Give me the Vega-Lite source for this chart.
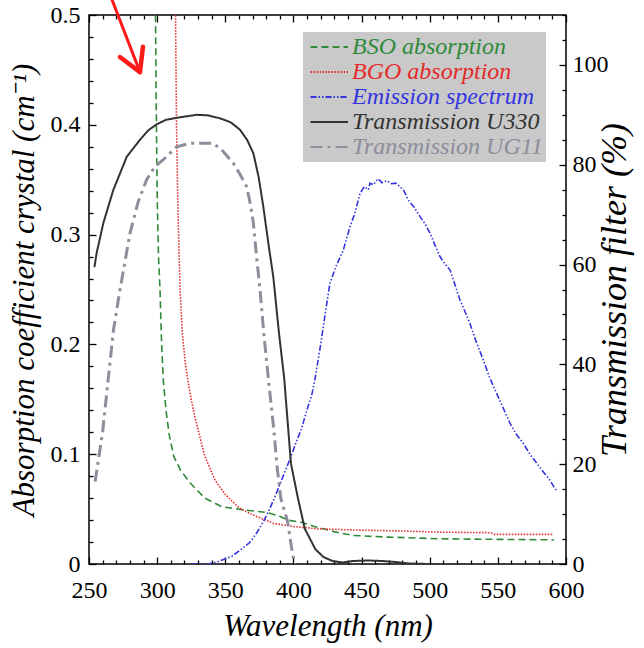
{
  "$schema": "https://vega.github.io/schema/vega-lite/v6.json",
  "width": 477,
  "height": 549,
  "autosize": {"type": "none"},
  "padding": {"left": 89, "top": 15, "right": 78, "bottom": 84},
  "background": "white",
  "config": {
    "view": {"stroke": "black", "strokeWidth": 1.5},
    "font": "'Times New Roman', 'Liberation Serif', Tinos, 'Noto Serif', FreeSerif, 'DejaVu Serif', serif",
    "axis": {
      "domain": false,
      "grid": false,
      "labelFont": "'Times New Roman', 'Liberation Serif', Tinos, 'Noto Serif', FreeSerif, 'DejaVu Serif', serif",
      "labelFontSize": 24,
      "labelColor": "black",
      "titleFont": "'Times New Roman', 'Liberation Serif', Tinos, 'Noto Serif', FreeSerif, 'DejaVu Serif', serif",
      "titleFontSize": 31,
      "titleFontStyle": "italic",
      "titleFontWeight": "normal",
      "titleColor": "black",
      "tickColor": "black",
      "tickWidth": 1.3,
      "labelOverlap": false,
      "labelFlush": false
    }
  },
  "datasets": {
    "absorption": [
      {"series": "BSO absorption", "wavelength": 298.5, "value": 0.62},
      {"series": "BSO absorption", "wavelength": 298.8, "value": 0.5},
      {"series": "BSO absorption", "wavelength": 299.3, "value": 0.42},
      {"series": "BSO absorption", "wavelength": 300.1, "value": 0.33},
      {"series": "BSO absorption", "wavelength": 301.0, "value": 0.28},
      {"series": "BSO absorption", "wavelength": 302.1, "value": 0.25},
      {"series": "BSO absorption", "wavelength": 303.3, "value": 0.2},
      {"series": "BSO absorption", "wavelength": 304.6, "value": 0.166},
      {"series": "BSO absorption", "wavelength": 306.5, "value": 0.14},
      {"series": "BSO absorption", "wavelength": 308.8, "value": 0.118},
      {"series": "BSO absorption", "wavelength": 312.2, "value": 0.098},
      {"series": "BSO absorption", "wavelength": 317.3, "value": 0.085},
      {"series": "BSO absorption", "wavelength": 324.8, "value": 0.073},
      {"series": "BSO absorption", "wavelength": 335.0, "value": 0.06},
      {"series": "BSO absorption", "wavelength": 347.7, "value": 0.052},
      {"series": "BSO absorption", "wavelength": 365.3, "value": 0.049},
      {"series": "BSO absorption", "wavelength": 380.5, "value": 0.047},
      {"series": "BSO absorption", "wavelength": 390.7, "value": 0.043},
      {"series": "BSO absorption", "wavelength": 395.7, "value": 0.04},
      {"series": "BSO absorption", "wavelength": 405.8, "value": 0.038},
      {"series": "BSO absorption", "wavelength": 416.0, "value": 0.034},
      {"series": "BSO absorption", "wavelength": 431.2, "value": 0.029},
      {"series": "BSO absorption", "wavelength": 443.8, "value": 0.026},
      {"series": "BSO absorption", "wavelength": 469.1, "value": 0.0245},
      {"series": "BSO absorption", "wavelength": 507.0, "value": 0.023},
      {"series": "BSO absorption", "wavelength": 545.0, "value": 0.0225},
      {"series": "BSO absorption", "wavelength": 591.0, "value": 0.022},
      {"series": "BGO absorption", "wavelength": 313.3, "value": 0.62},
      {"series": "BGO absorption", "wavelength": 313.5, "value": 0.5},
      {"series": "BGO absorption", "wavelength": 314.2, "value": 0.4},
      {"series": "BGO absorption", "wavelength": 315.3, "value": 0.32},
      {"series": "BGO absorption", "wavelength": 316.8, "value": 0.25},
      {"series": "BGO absorption", "wavelength": 318.5, "value": 0.21},
      {"series": "BGO absorption", "wavelength": 320.5, "value": 0.185},
      {"series": "BGO absorption", "wavelength": 322.3, "value": 0.169},
      {"series": "BGO absorption", "wavelength": 324.8, "value": 0.151},
      {"series": "BGO absorption", "wavelength": 327.5, "value": 0.135},
      {"series": "BGO absorption", "wavelength": 329.9, "value": 0.123},
      {"series": "BGO absorption", "wavelength": 335.0, "value": 0.098},
      {"series": "BGO absorption", "wavelength": 342.6, "value": 0.076},
      {"series": "BGO absorption", "wavelength": 350.2, "value": 0.063},
      {"series": "BGO absorption", "wavelength": 360.3, "value": 0.051},
      {"series": "BGO absorption", "wavelength": 370.4, "value": 0.0446},
      {"series": "BGO absorption", "wavelength": 385.6, "value": 0.037},
      {"series": "BGO absorption", "wavelength": 400.8, "value": 0.034},
      {"series": "BGO absorption", "wavelength": 418.5, "value": 0.032},
      {"series": "BGO absorption", "wavelength": 443.8, "value": 0.031},
      {"series": "BGO absorption", "wavelength": 481.7, "value": 0.03},
      {"series": "BGO absorption", "wavelength": 507.0, "value": 0.029},
      {"series": "BGO absorption", "wavelength": 545.0, "value": 0.0285},
      {"series": "BGO absorption", "wavelength": 547.5, "value": 0.027},
      {"series": "BGO absorption", "wavelength": 591.0, "value": 0.027}
    ],
    "transmission": [
      {"series": "Emission spectrum", "wavelength": 325.0, "percent": 0.0},
      {"series": "Emission spectrum", "wavelength": 337.5, "percent": 0.0},
      {"series": "Emission spectrum", "wavelength": 345.0, "percent": 0.5},
      {"series": "Emission spectrum", "wavelength": 355.2, "percent": 1.6},
      {"series": "Emission spectrum", "wavelength": 361.0, "percent": 2.8},
      {"series": "Emission spectrum", "wavelength": 367.9, "percent": 4.3},
      {"series": "Emission spectrum", "wavelength": 373.0, "percent": 6.2},
      {"series": "Emission spectrum", "wavelength": 378.0, "percent": 8.5},
      {"series": "Emission spectrum", "wavelength": 383.0, "percent": 11.3},
      {"series": "Emission spectrum", "wavelength": 388.1, "percent": 14.6},
      {"series": "Emission spectrum", "wavelength": 393.0, "percent": 18.0},
      {"series": "Emission spectrum", "wavelength": 398.2, "percent": 21.5},
      {"series": "Emission spectrum", "wavelength": 402.0, "percent": 24.4},
      {"series": "Emission spectrum", "wavelength": 405.8, "percent": 27.0},
      {"series": "Emission spectrum", "wavelength": 409.5, "percent": 30.5},
      {"series": "Emission spectrum", "wavelength": 413.4, "percent": 33.8},
      {"series": "Emission spectrum", "wavelength": 416.0, "percent": 37.3},
      {"series": "Emission spectrum", "wavelength": 420.0, "percent": 44.0},
      {"series": "Emission spectrum", "wavelength": 423.5, "percent": 50.5},
      {"series": "Emission spectrum", "wavelength": 426.8, "percent": 56.3},
      {"series": "Emission spectrum", "wavelength": 431.5, "percent": 59.8},
      {"series": "Emission spectrum", "wavelength": 436.6, "percent": 62.9},
      {"series": "Emission spectrum", "wavelength": 441.5, "percent": 67.6},
      {"series": "Emission spectrum", "wavelength": 445.0, "percent": 70.2},
      {"series": "Emission spectrum", "wavelength": 448.8, "percent": 74.2},
      {"series": "Emission spectrum", "wavelength": 452.0, "percent": 75.6},
      {"series": "Emission spectrum", "wavelength": 455.0, "percent": 75.0},
      {"series": "Emission spectrum", "wavelength": 456.2, "percent": 76.3},
      {"series": "Emission spectrum", "wavelength": 458.6, "percent": 76.0},
      {"series": "Emission spectrum", "wavelength": 462.0, "percent": 77.2},
      {"series": "Emission spectrum", "wavelength": 465.0, "percent": 76.4},
      {"series": "Emission spectrum", "wavelength": 468.4, "percent": 76.8},
      {"series": "Emission spectrum", "wavelength": 472.0, "percent": 76.2},
      {"series": "Emission spectrum", "wavelength": 475.0, "percent": 76.3},
      {"series": "Emission spectrum", "wavelength": 478.2, "percent": 75.6},
      {"series": "Emission spectrum", "wavelength": 481.0, "percent": 74.8},
      {"series": "Emission spectrum", "wavelength": 484.3, "percent": 72.9},
      {"series": "Emission spectrum", "wavelength": 488.5, "percent": 71.5},
      {"series": "Emission spectrum", "wavelength": 492.9, "percent": 69.6},
      {"series": "Emission spectrum", "wavelength": 496.5, "percent": 68.2},
      {"series": "Emission spectrum", "wavelength": 500.2, "percent": 66.3},
      {"series": "Emission spectrum", "wavelength": 504.0, "percent": 63.8},
      {"series": "Emission spectrum", "wavelength": 507.5, "percent": 61.6},
      {"series": "Emission spectrum", "wavelength": 511.0, "percent": 60.2},
      {"series": "Emission spectrum", "wavelength": 514.9, "percent": 58.9},
      {"series": "Emission spectrum", "wavelength": 518.5, "percent": 56.0},
      {"series": "Emission spectrum", "wavelength": 522.2, "percent": 52.9},
      {"series": "Emission spectrum", "wavelength": 526.0, "percent": 50.5},
      {"series": "Emission spectrum", "wavelength": 529.5, "percent": 48.2},
      {"series": "Emission spectrum", "wavelength": 534.0, "percent": 44.6},
      {"series": "Emission spectrum", "wavelength": 539.3, "percent": 40.9},
      {"series": "Emission spectrum", "wavelength": 544.0, "percent": 37.3},
      {"series": "Emission spectrum", "wavelength": 549.1, "percent": 34.2},
      {"series": "Emission spectrum", "wavelength": 554.0, "percent": 31.2},
      {"series": "Emission spectrum", "wavelength": 558.9, "percent": 28.2},
      {"series": "Emission spectrum", "wavelength": 563.5, "percent": 26.0},
      {"series": "Emission spectrum", "wavelength": 568.6, "percent": 24.2},
      {"series": "Emission spectrum", "wavelength": 573.5, "percent": 22.0},
      {"series": "Emission spectrum", "wavelength": 578.5, "percent": 20.2},
      {"series": "Emission spectrum", "wavelength": 583.0, "percent": 18.6},
      {"series": "Emission spectrum", "wavelength": 588.2, "percent": 16.8},
      {"series": "Emission spectrum", "wavelength": 591.0, "percent": 15.5},
      {"series": "Emission spectrum", "wavelength": 593.6, "percent": 14.5},
      {"series": "Transmission U330", "wavelength": 254.0, "percent": 59.5},
      {"series": "Transmission U330", "wavelength": 255.6, "percent": 62.3},
      {"series": "Transmission U330", "wavelength": 260.5, "percent": 68.3},
      {"series": "Transmission U330", "wavelength": 267.8, "percent": 74.9},
      {"series": "Transmission U330", "wavelength": 277.7, "percent": 81.6},
      {"series": "Transmission U330", "wavelength": 287.4, "percent": 85.0},
      {"series": "Transmission U330", "wavelength": 293.5, "percent": 86.9},
      {"series": "Transmission U330", "wavelength": 299.7, "percent": 88.1},
      {"series": "Transmission U330", "wavelength": 306.5, "percent": 89.0},
      {"series": "Transmission U330", "wavelength": 314.3, "percent": 89.4},
      {"series": "Transmission U330", "wavelength": 329.0, "percent": 90.0},
      {"series": "Transmission U330", "wavelength": 337.0, "percent": 89.9},
      {"series": "Transmission U330", "wavelength": 346.1, "percent": 89.3},
      {"series": "Transmission U330", "wavelength": 354.0, "percent": 88.5},
      {"series": "Transmission U330", "wavelength": 360.8, "percent": 87.0},
      {"series": "Transmission U330", "wavelength": 366.0, "percent": 85.0},
      {"series": "Transmission U330", "wavelength": 370.6, "percent": 82.3},
      {"series": "Transmission U330", "wavelength": 374.5, "percent": 77.5},
      {"series": "Transmission U330", "wavelength": 377.9, "percent": 71.6},
      {"series": "Transmission U330", "wavelength": 382.0, "percent": 63.5},
      {"series": "Transmission U330", "wavelength": 385.2, "percent": 57.6},
      {"series": "Transmission U330", "wavelength": 389.5, "percent": 46.0},
      {"series": "Transmission U330", "wavelength": 393.2, "percent": 37.3},
      {"series": "Transmission U330", "wavelength": 398.2, "percent": 20.1},
      {"series": "Transmission U330", "wavelength": 403.3, "percent": 13.2},
      {"series": "Transmission U330", "wavelength": 408.3, "percent": 7.1},
      {"series": "Transmission U330", "wavelength": 416.0, "percent": 3.0},
      {"series": "Transmission U330", "wavelength": 422.0, "percent": 1.4},
      {"series": "Transmission U330", "wavelength": 428.6, "percent": 0.6},
      {"series": "Transmission U330", "wavelength": 436.0, "percent": 0.3},
      {"series": "Transmission U330", "wavelength": 443.8, "percent": 0.6},
      {"series": "Transmission U330", "wavelength": 455.0, "percent": 0.7},
      {"series": "Transmission U330", "wavelength": 465.0, "percent": 0.6},
      {"series": "Transmission U330", "wavelength": 475.0, "percent": 0.4},
      {"series": "Transmission U330", "wavelength": 485.0, "percent": 0.1},
      {"series": "Transmission U330", "wavelength": 500.0, "percent": 0.0},
      {"series": "Transmission UG11", "wavelength": 254.5, "percent": 16.5},
      {"series": "Transmission UG11", "wavelength": 260.0, "percent": 26.5},
      {"series": "Transmission UG11", "wavelength": 264.2, "percent": 37.3},
      {"series": "Transmission UG11", "wavelength": 268.0, "percent": 47.0},
      {"series": "Transmission UG11", "wavelength": 272.7, "percent": 54.9},
      {"series": "Transmission UG11", "wavelength": 280.1, "percent": 66.3},
      {"series": "Transmission UG11", "wavelength": 286.0, "percent": 72.5},
      {"series": "Transmission UG11", "wavelength": 292.3, "percent": 77.0},
      {"series": "Transmission UG11", "wavelength": 298.0, "percent": 79.5},
      {"series": "Transmission UG11", "wavelength": 304.5, "percent": 81.0},
      {"series": "Transmission UG11", "wavelength": 314.3, "percent": 83.6},
      {"series": "Transmission UG11", "wavelength": 324.1, "percent": 84.3},
      {"series": "Transmission UG11", "wavelength": 341.2, "percent": 84.3},
      {"series": "Transmission UG11", "wavelength": 348.0, "percent": 82.8},
      {"series": "Transmission UG11", "wavelength": 355.9, "percent": 80.3},
      {"series": "Transmission UG11", "wavelength": 361.0, "percent": 78.0},
      {"series": "Transmission UG11", "wavelength": 365.7, "percent": 75.6},
      {"series": "Transmission UG11", "wavelength": 368.5, "percent": 72.0},
      {"series": "Transmission UG11", "wavelength": 370.6, "percent": 68.3},
      {"series": "Transmission UG11", "wavelength": 373.0, "percent": 61.5},
      {"series": "Transmission UG11", "wavelength": 375.5, "percent": 54.9},
      {"series": "Transmission UG11", "wavelength": 378.5, "percent": 45.5},
      {"series": "Transmission UG11", "wavelength": 381.8, "percent": 36.6},
      {"series": "Transmission UG11", "wavelength": 385.6, "percent": 27.0},
      {"series": "Transmission UG11", "wavelength": 388.0, "percent": 19.5},
      {"series": "Transmission UG11", "wavelength": 390.7, "percent": 13.2},
      {"series": "Transmission UG11", "wavelength": 395.7, "percent": 8.5},
      {"series": "Transmission UG11", "wavelength": 398.5, "percent": 3.5},
      {"series": "Transmission UG11", "wavelength": 400.8, "percent": 0.0}
    ],
    "arrow": [
      {"part": "shaft", "wavelength": 265.0, "value": 0.52, "wavelength2": 287.4, "value2": 0.448},
      {"part": "head", "wavelength": 287.4, "value": 0.448, "wavelength2": 289.6, "value2": 0.471},
      {"part": "head", "wavelength": 287.4, "value": 0.448, "wavelength2": 272.7, "value2": 0.4617}
    ]
  },
  "layer": [
    {
      "data": {"name": "absorption"},
      "mark": {"type": "line", "clip": true, "strokeWidth": 1.6},
      "encoding": {
        "x": {
          "field": "wavelength", "type": "quantitative",
          "scale": {"domain": [250, 600], "nice": false, "zero": false},
          "axis": {
            "orient": "bottom",
            "title": "Wavelength (nm)",
            "values": [250, 260, 270, 280, 290, 300, 310, 320, 330, 340, 350, 360, 370, 380, 390, 400, 410, 420, 430, 440, 450, 460, 470, 480, 490, 500, 510, 520, 530, 540, 550, 560, 570, 580, 590, 600],
            "format": "d",
            "labelExpr": "datum.value % 50 === 0 ? datum.label : ''",
            "tickSize": {"condition": {"test": "datum.value % 50 === 0", "value": -7}, "value": -4},
            "labelPadding": 21,
            "titlePadding": 6
          }
        },
        "y": {
          "field": "value", "type": "quantitative",
          "scale": {"domain": [0, 0.5], "nice": false, "zero": false},
          "axis": {
            "orient": "left",
            "title": "Absorption coefficient crystal (cm⁻¹)",
            "values": [0, 0.02, 0.04, 0.06, 0.08, 0.1, 0.12, 0.14, 0.16, 0.18, 0.2, 0.22, 0.24, 0.26, 0.28, 0.3, 0.32, 0.34, 0.36, 0.38, 0.4, 0.42, 0.44, 0.46, 0.48, 0.5],
            "labelExpr": "abs(datum.value * 10 - round(datum.value * 10)) < 0.001 ? (datum.value === 0 ? '0' : format(datum.value, '.1f')) : ''",
            "tickSize": {"condition": {"test": "abs(datum.value * 10 - round(datum.value * 10)) < 0.001", "value": -7}, "value": -4},
            "labelPadding": 16,
            "titlePadding": 10
          }
        },
        "color": {
          "field": "series", "type": "nominal",
          "scale": {
            "domain": ["BSO absorption", "BGO absorption", "Emission spectrum", "Transmission U330", "Transmission UG11"],
            "range": ["#2f8a3a", "#e52a2a", "#3434e0", "#333333", "#8d8d9c"]
          },
          "legend": {
            "title": null,
            "orient": "none",
            "legendX": 214,
            "legendY": 17,
            "fillColor": "#c9c9c9",
            "padding": 3,
            "symbolType": "M-1,0H4",
            "symbolSize": 225,
            "symbolStrokeWidth": 2,
            "symbolFillColor": "transparent",
            "labelOffset": 22,
            "labelFont": "'Times New Roman', 'Liberation Serif', Tinos, 'Noto Serif', FreeSerif, 'DejaVu Serif', serif",
            "labelFontStyle": "italic",
            "labelFontSize": 24,
            "labelLimit": 400,
            "rowPadding": 1,
            "encode": {"labels": {"update": {"fill": {"scale": "color", "field": "value"}}}}
          }
        },
        "strokeDash": {
          "field": "series", "type": "nominal",
          "scale": {
            "domain": ["BSO absorption", "BGO absorption", "Emission spectrum", "Transmission U330", "Transmission UG11"],
            "range": [[7, 4], [1.5, 1.5], [6, 2, 1.5, 2, 1.5, 2], [1, 0], [12, 5, 3, 5]]
          }
        }
      }
    },
    {
      "data": {"name": "arrow"},
      "mark": {"type": "rule", "clip": false, "color": "#ff1a1a", "strokeCap": "round"},
      "encoding": {
        "x": {"field": "wavelength", "type": "quantitative", "scale": {"domain": [250, 600], "nice": false, "zero": false}, "axis": null},
        "y": {"field": "value", "type": "quantitative", "scale": {"domain": [0, 0.5], "nice": false, "zero": false}, "axis": null},
        "x2": {"field": "wavelength2"},
        "y2": {"field": "value2"},
        "strokeWidth": {"condition": {"test": "datum.part === 'shaft'", "value": 3}, "value": 4.5}
      }
    },
    {
      "data": {"name": "transmission"},
      "mark": {"type": "line", "clip": true},
      "encoding": {
        "x": {
          "field": "wavelength", "type": "quantitative",
          "scale": {"domain": [250, 600], "nice": false, "zero": false},
          "axis": {
            "orient": "top",
            "title": null,
            "labels": false,
            "values": [250, 260, 270, 280, 290, 300, 310, 320, 330, 340, 350, 360, 370, 380, 390, 400, 410, 420, 430, 440, 450, 460, 470, 480, 490, 500, 510, 520, 530, 540, 550, 560, 570, 580, 590, 600],
            "tickSize": {"condition": {"test": "datum.value % 50 === 0", "value": -7}, "value": -4}
          }
        },
        "y": {
          "field": "percent", "type": "quantitative",
          "scale": {"domain": [0, 110], "nice": false, "zero": false},
          "axis": {
            "orient": "right",
            "title": "Transmission  filter (%)",
            "titleFontSize": 36,
            "titleAngle": -90,
            "titleBaseline": "top",
            "values": [0, 5, 10, 15, 20, 25, 30, 35, 40, 45, 50, 55, 60, 65, 70, 75, 80, 85, 90, 95, 100, 105, 110],
            "labelExpr": "datum.value % 20 === 0 && datum.value <= 100 ? datum.label : ''",
            "tickSize": {"condition": {"test": "datum.value % 20 === 0", "value": -7}, "value": -4},
            "labelPadding": 13,
            "titlePadding": -11
          }
        },
        "color": {
          "field": "series", "type": "nominal",
          "scale": {
            "domain": ["BSO absorption", "BGO absorption", "Emission spectrum", "Transmission U330", "Transmission UG11"],
            "range": ["#2f8a3a", "#e52a2a", "#3434e0", "#333333", "#8d8d9c"]
          }
        },
        "strokeDash": {
          "field": "series", "type": "nominal",
          "scale": {
            "domain": ["BSO absorption", "BGO absorption", "Emission spectrum", "Transmission U330", "Transmission UG11"],
            "range": [[7, 4], [1.5, 1.5], [6, 2, 1.5, 2, 1.5, 2], [1, 0], [12, 5, 3, 5]]
          }
        },
        "strokeWidth": {
          "condition": [
            {"test": "datum.series === 'Transmission UG11'", "value": 3},
            {"test": "datum.series === 'Transmission U330'", "value": 2}
          ],
          "value": 1.6
        }
      }
    }
  ],
  "resolve": {
    "scale": {"y": "independent"},
    "axis": {"x": "independent", "y": "independent"}
  }
}
